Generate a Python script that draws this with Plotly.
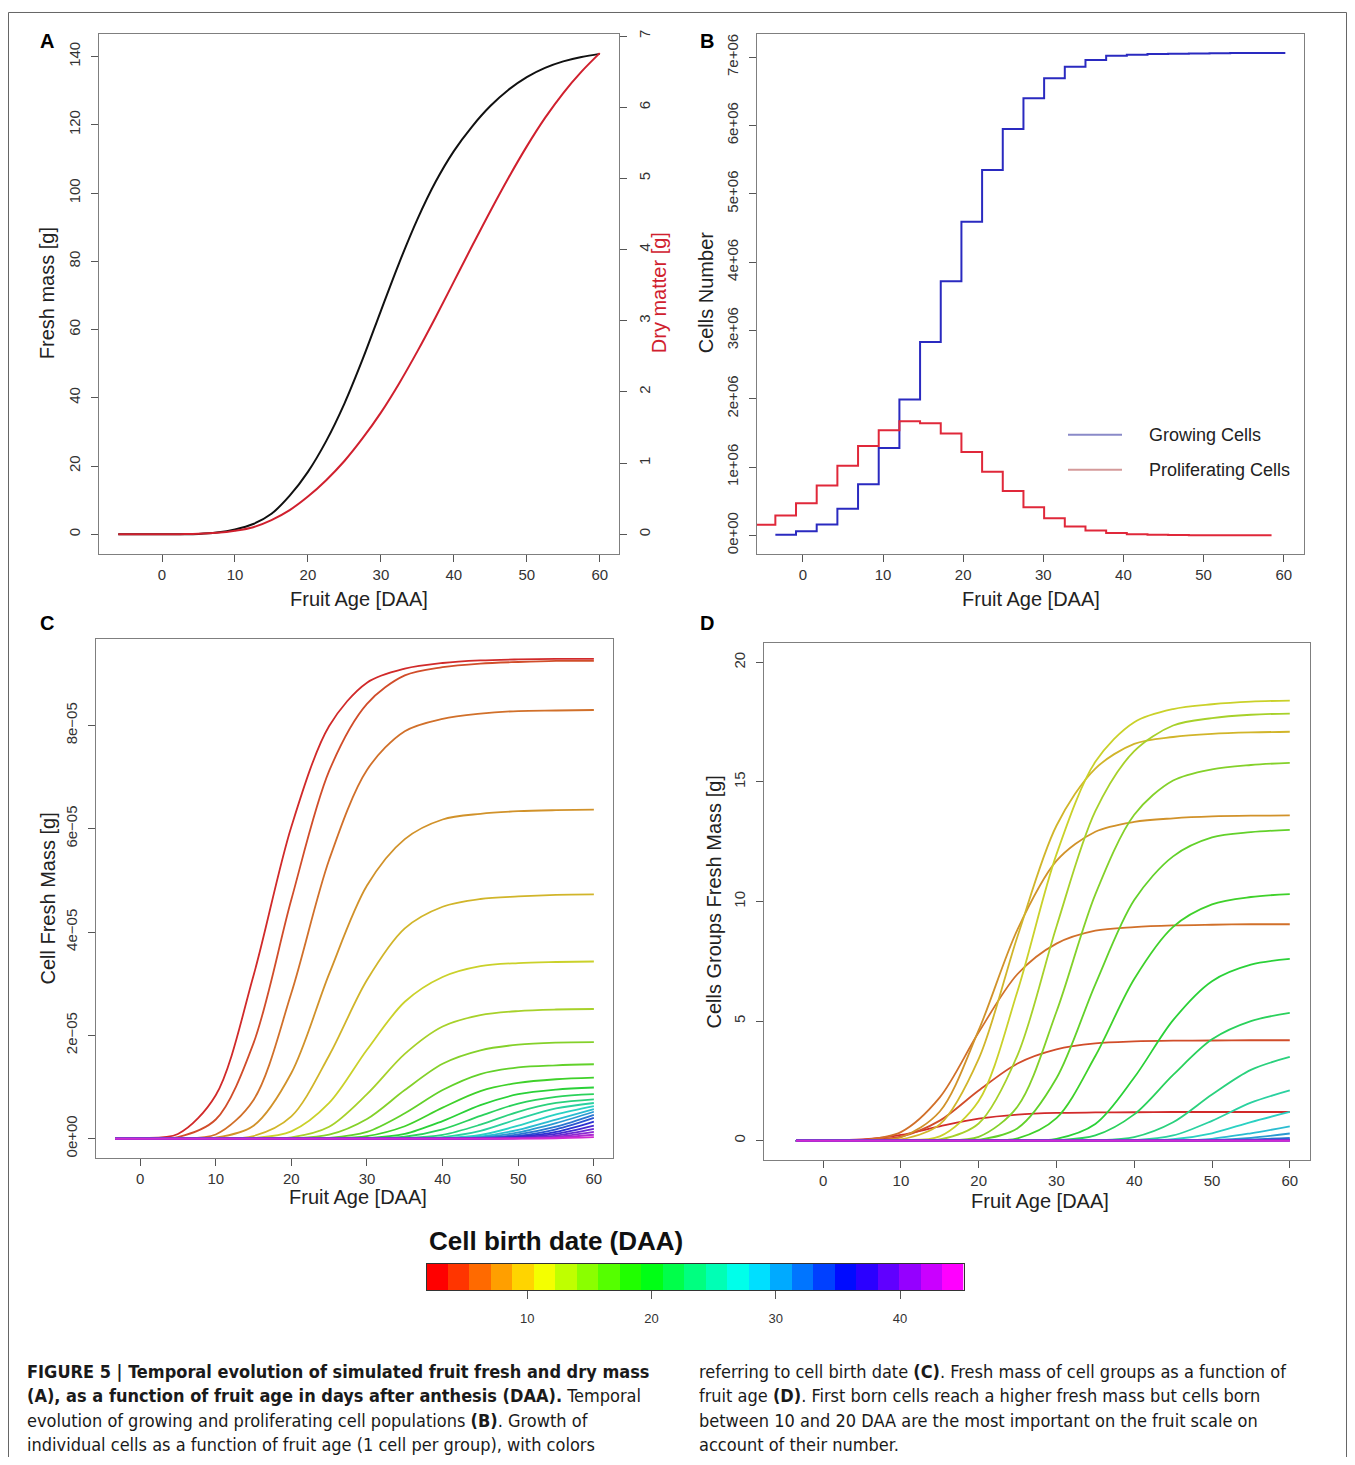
import colorsys
import plotly.graph_objects as go

# page body has an 8 px margin: the figure is laid out in reference pixel coordinates
OX, OY = 8, 8
W, H = 1339, 1449
FONT = "Liberation Sans, Arial, Helvetica, sans-serif"
NARROW = "Liberation Sans Narrow, DejaVu Sans Condensed, Arial Narrow, sans-serif"

# ---------------- Panel A : fruit fresh / dry mass ----------------
A_AGE = [-6, -3, 0, 2.5, 5, 7.5, 10, 12.5, 15, 17.5, 20, 22.5, 25, 27.5, 30, 32.5, 35,
         37.5, 40, 42.5, 45, 47.5, 50, 52.5, 55, 57.5, 60]
A_FRESH = [0, 0, 0, 0.02, 0.1, 0.5, 1.4, 3.0, 6.0, 11.3, 18.3, 27.3, 38.3, 51.3, 65.5, 79.5,
           92.3, 103.3, 112.3, 119.5, 125.5, 130.3, 134.0, 136.7, 138.6, 139.9, 140.8]
A_DRY = [0, 0, 0, 0.002, 0.006, 0.02, 0.05, 0.1, 0.2, 0.34, 0.53, 0.76, 1.03, 1.35, 1.71, 2.12,
         2.57, 3.05, 3.55, 4.05, 4.54, 5.01, 5.45, 5.85, 6.2, 6.5, 6.76]

# ---------------- Panel B : cell populations (step series) ----------------
B_GROW_AGE = [-3.44, -0.86, 1.72, 4.30, 6.88, 9.46, 12.04, 14.62, 17.20, 19.78, 22.36, 24.94,
              27.52, 30.10, 32.68, 35.26, 37.84, 40.42, 43.00, 45.58, 48.16, 50.74, 53.32,
              55.90, 58.48, 60.2]
B_GROWING = [0.01e6, 0.06e6, 0.16e6, 0.39e6, 0.75e6, 1.28e6, 1.99e6, 2.83e6, 3.72e6, 4.59e6,
             5.35e6, 5.95e6, 6.40e6, 6.69e6, 6.86e6, 6.96e6, 7.02e6, 7.035e6, 7.045e6, 7.05e6,
             7.055e6, 7.058e6, 7.06e6, 7.06e6, 7.06e6, 7.06e6]
B_PROL_AGE = [-6.02, -3.44, -0.86, 1.72, 4.30, 6.88, 9.46, 12.04, 14.62, 17.20, 19.78, 22.36,
              24.94, 27.52, 30.10, 32.68, 35.26, 37.84, 40.42, 43.00, 45.58, 48.16, 50.74,
              53.32, 55.90, 58.48]
B_PROLIF = [0.155e6, 0.29e6, 0.47e6, 0.73e6, 1.02e6, 1.31e6, 1.54e6, 1.67e6, 1.64e6, 1.49e6,
            1.22e6, 0.93e6, 0.65e6, 0.41e6, 0.25e6, 0.13e6, 0.07e6, 0.035e6, 0.018e6, 0.009e6,
            0.005e6, 0.003e6, 0.002e6, 0.001e6, 0.0005e6, 0.0005e6]
B_SERIES = ["Growing Cells", "Proliferating Cells"]

# ---------------- Panel C : individual cell fresh mass (x 1e-5 g) ----------------
C_AGE = [-3.3, 0, 5, 10, 15, 20, 25, 30, 35, 40, 45, 50, 55, 60]
C_MASS_E5 = [
    [0, 0.01, 0.09, 0.84, 3.16, 6.04, 7.99, 8.83, 9.10, 9.21, 9.26, 9.28, 9.29, 9.29],
    [0, 0, 0.03, 0.37, 1.85, 4.63, 7.12, 8.42, 8.97, 9.13, 9.20, 9.23, 9.25, 9.25],
    [0, 0, 0.01, 0.08, 0.75, 2.82, 5.40, 7.14, 7.89, 8.13, 8.23, 8.28, 8.29, 8.30],
    [0, 0, 0, 0.02, 0.25, 1.27, 3.19, 4.90, 5.80, 6.18, 6.29, 6.34, 6.36, 6.37],
    [0, 0, 0, 0.005, 0.05, 0.43, 1.61, 3.07, 4.07, 4.49, 4.64, 4.69, 4.72, 4.73],
    [0, 0, 0, 0, 0.01, 0.14, 0.69, 1.72, 2.65, 3.13, 3.34, 3.40, 3.42, 3.43],
    [0, 0, 0, 0, 0.003, 0.025, 0.23, 0.86, 1.64, 2.17, 2.39, 2.47, 2.50, 2.51],
    [0, 0, 0, 0, 0, 0.006, 0.075, 0.38, 0.94, 1.45, 1.71, 1.82, 1.86, 1.87],
    [0, 0, 0, 0, 0, 0.001, 0.015, 0.13, 0.49, 0.94, 1.25, 1.38, 1.42, 1.44],
    [0, 0, 0, 0, 0, 0, 0.004, 0.048, 0.24, 0.60, 0.92, 1.08, 1.15, 1.18],
    [0, 0, 0, 0, 0, 0, 0.001, 0.01, 0.09, 0.34, 0.65, 0.86, 0.95, 0.99],
    [0, 0, 0, 0, 0, 0, 0, 0.003, 0.036, 0.18, 0.44, 0.68, 0.81, 0.86],
    [0, 0, 0, 0, 0, 0, 0, 0.001, 0.008, 0.072, 0.27, 0.52, 0.69, 0.76],
    [0, 0, 0, 0, 0, 0, 0, 0, 0.002, 0.03, 0.15, 0.38, 0.585, 0.69],
    [0, 0, 0, 0, 0, 0, 0, 0, 0.001, 0.01, 0.07, 0.25, 0.47, 0.63],
    [0, 0, 0, 0, 0, 0, 0, 0, 0, 0.005, 0.04, 0.17, 0.37, 0.57],
    [0, 0, 0, 0, 0, 0, 0, 0, 0, 0.002, 0.025, 0.12, 0.30, 0.52],
    [0, 0, 0, 0, 0, 0, 0, 0, 0, 0.001, 0.015, 0.08, 0.23, 0.46],
    [0, 0, 0, 0, 0, 0, 0, 0, 0, 0, 0.008, 0.055, 0.18, 0.40],
    [0, 0, 0, 0, 0, 0, 0, 0, 0, 0, 0.004, 0.035, 0.13, 0.33],
    [0, 0, 0, 0, 0, 0, 0, 0, 0, 0, 0.002, 0.02, 0.09, 0.25],
    [0, 0, 0, 0, 0, 0, 0, 0, 0, 0, 0.001, 0.012, 0.06, 0.19],
    [0, 0, 0, 0, 0, 0, 0, 0, 0, 0, 0, 0.006, 0.035, 0.13],
    [0, 0, 0, 0, 0, 0, 0, 0, 0, 0, 0, 0.003, 0.018, 0.075],
    [0, 0, 0, 0, 0, 0, 0, 0, 0, 0, 0, 0.001, 0.007, 0.03],
]

# ---------------- Panel D : cell-group fresh mass (g) ----------------
D_AGE = [-3.5, 0, 5, 10, 15, 20, 25, 30, 35, 40, 45, 50, 55, 60]
D_MASS = [
    [0, 0.004, 0.05, 0.24, 0.6, 0.92, 1.09, 1.16, 1.18, 1.19, 1.2, 1.2, 1.2, 1.2],
    [0, 0, 0.013, 0.17, 0.84, 2.1, 3.23, 3.82, 4.07, 4.15, 4.18, 4.19, 4.2, 4.2],
    [0, 0, 0.027, 0.36, 1.81, 4.53, 6.97, 8.24, 8.78, 8.93, 9.0, 9.03, 9.05, 9.05],
    [0, 0, 0.014, 0.14, 1.22, 4.62, 8.84, 11.7, 12.92, 13.33, 13.48, 13.56, 13.59, 13.6],
    [0, 0, 0, 0.05, 0.68, 3.42, 8.55, 13.17, 15.56, 16.59, 16.88, 17.01, 17.07, 17.1],
    [0, 0, 0, 0.02, 0.18, 1.66, 6.26, 11.97, 15.84, 17.5, 18.05, 18.25, 18.36, 18.4],
    [0, 0, 0, 0, 0.05, 0.72, 3.58, 8.95, 13.78, 16.29, 17.36, 17.67, 17.81, 17.86],
    [0, 0, 0, 0, 0.02, 0.16, 1.43, 5.39, 10.3, 13.63, 15.06, 15.53, 15.71, 15.8],
    [0, 0, 0, 0, 0, 0.04, 0.52, 2.61, 6.54, 10.06, 11.89, 12.68, 12.9, 13.0],
    [0, 0, 0, 0, 0, 0.01, 0.1, 0.94, 3.54, 6.76, 8.94, 9.88, 10.19, 10.31],
    [0, 0, 0, 0, 0, 0, 0.01, 0.08, 0.7, 2.64, 5.04, 6.67, 7.36, 7.6],
    [0, 0, 0, 0, 0, 0, 0, 0.02, 0.22, 1.1, 2.75, 4.24, 5.0, 5.34],
    [0, 0, 0, 0, 0, 0, 0, 0, 0.01, 0.15, 0.77, 1.93, 2.96, 3.5],
    [0, 0, 0, 0, 0, 0, 0, 0, 0.002, 0.02, 0.22, 0.83, 1.59, 2.1],
    [0, 0, 0, 0, 0, 0, 0, 0, 0, 0.005, 0.06, 0.31, 0.78, 1.2],
    [0, 0, 0, 0, 0, 0, 0, 0, 0, 0.001, 0.01, 0.08, 0.31, 0.6],
    [0, 0, 0, 0, 0, 0, 0, 0, 0, 0, 0.002, 0.024, 0.12, 0.3],
    [0, 0, 0, 0, 0, 0, 0, 0, 0, 0, 0, 0.01, 0.05, 0.12],
    [0, 0, 0, 0, 0, 0, 0, 0, 0, 0, 0, 0.005, 0.025, 0.06],
    [0, 0, 0, 0, 0, 0, 0, 0, 0, 0, 0, 0, 0.01, 0.03],
    [0, 0, 0, 0, 0, 0, 0, 0, 0, 0, 0, 0, 0.005, 0.015],
    [0, 0, 0, 0, 0, 0, 0, 0, 0, 0, 0, 0, 0, 0.008],
    [0, 0, 0, 0, 0, 0, 0, 0, 0, 0, 0, 0, 0, 0.004],
    [0, 0, 0, 0, 0, 0, 0, 0, 0, 0, 0, 0, 0, 0.002],
    [0, 0, 0, 0, 0, 0, 0, 0, 0, 0, 0, 0, 0, 0.001],
]

# ---------------- Colour key : cell birth date bins (DAA) ----------------
BIRTH_EDGES = [1.9, 3.63, 5.36, 7.08, 8.81, 10.54, 12.27, 14.0, 15.72, 17.45, 19.18, 20.91,
               22.64, 24.36, 26.09, 27.82, 29.55, 31.28, 33.0, 34.73, 36.46, 38.19, 39.92,
               41.64, 43.37, 45.1]
BIRTH_TICKS = [10, 20, 30, 40]

X_TICKS = [0, 10, 20, 30, 40, 50, 60]
A_Y_TICKS = [0, 20, 40, 60, 80, 100, 120, 140]
A_Y2_TICKS = [0, 1, 2, 3, 4, 5, 6, 7]
B_Y_TICKS = [0, 1e6, 2e6, 3e6, 4e6, 5e6, 6e6, 7e6]
B_Y_LABELS = ["0e+00", "1e+06", "2e+06", "3e+06", "4e+06", "5e+06", "6e+06", "7e+06"]
C_Y_TICKS = [0, 2e-5, 4e-5, 6e-5, 8e-5]
C_Y_LABELS = ["0e+00", "2e\u221205", "4e\u221205", "6e\u221205", "8e\u221205"]
D_Y_TICKS = [0, 5, 10, 15, 20]


def rainbow(n, s=1.0, v=1.0):
    out = []
    for i in range(n):
        h = (i / (n - 1)) * (300 / 360)
        r, g, b = colorsys.hsv_to_rgb(h, s, v)
        out.append('#%02x%02x%02x' % (round(r * 255), round(g * 255), round(b * 255)))
    return out


N = len(C_MASS_E5)
KEY_COLORS = rainbow(len(BIRTH_EDGES) - 1)
LINE_COLORS = rainbow(N, s=0.8, v=0.82)


def px(x):
    return (x - OX) / W


def py(y):
    return 1 - (y - OY) / H


fig = go.Figure()

# Panel A
fig.add_trace(go.Scatter(x=A_AGE, y=A_FRESH, mode='lines', line=dict(color='#111111', width=2, shape='spline'),
                         xaxis='x', yaxis='y'))
fig.add_trace(go.Scatter(x=A_AGE, y=A_DRY, mode='lines', line=dict(color='#d0202e', width=2, shape='spline'),
                         xaxis='x', yaxis='y2'))

# Panel B
fig.add_trace(go.Scatter(x=B_GROW_AGE, y=B_GROWING, mode='lines', name=B_SERIES[0],
                         line=dict(color='#2a2ac0', width=2, shape='hv'), xaxis='x2', yaxis='y3'))
fig.add_trace(go.Scatter(x=B_PROL_AGE, y=B_PROLIF, mode='lines', name=B_SERIES[1],
                         line=dict(color='#e0283a', width=2, shape='hv'), xaxis='x2', yaxis='y3'))

# Panel C
for i, row in enumerate(C_MASS_E5):
    fig.add_trace(go.Scatter(x=C_AGE, y=[v * 1e-5 for v in row], mode='lines',
                             line=dict(color=LINE_COLORS[i], width=1.8, shape='spline', smoothing=0.9),
                             xaxis='x3', yaxis='y4'))

# Panel D
for i, row in enumerate(D_MASS):
    fig.add_trace(go.Scatter(x=D_AGE, y=row, mode='lines',
                             line=dict(color=LINE_COLORS[i], width=1.8, shape='spline', smoothing=0.9),
                             xaxis='x4', yaxis='y5'))

# Colour key
nb = len(KEY_COLORS)
cscale = []
for i, c in enumerate(KEY_COLORS):
    cscale.append([i / nb, c])
    cscale.append([(i + 1) / nb, c])
fig.add_trace(go.Heatmap(x=BIRTH_EDGES, z=[list(range(nb))], zmin=-0.5, zmax=nb - 0.5,
                         colorscale=cscale, showscale=False, xaxis='x5', yaxis='y6', hoverinfo='skip'))


def ax(**kw):
    base = dict(showline=True, linecolor='#7f7f7f', linewidth=1, mirror=True, ticks='outside',
                ticklen=7, tickwidth=1, tickcolor='#555555',
                tickfont=dict(size=15, color='#333333', family=FONT),
                showgrid=False, zeroline=False, fixedrange=True)
    base.update(kw)
    return base


fig.update_layout(
    width=W, height=H, margin=dict(l=0, r=0, t=0, b=0),
    paper_bgcolor='white', plot_bgcolor='white', showlegend=False,
    font=dict(family=FONT, color='#222222'),
    xaxis=ax(domain=[px(99), px(619)], range=[-8.64, 62.64], tickvals=X_TICKS, anchor='y'),
    yaxis=ax(domain=[py(551), py(30)], range=[-5.64, 146.64], tickvals=A_Y_TICKS, tickangle=-90,
             anchor='x', ticklabelstandoff=5),
    yaxis2=ax(domain=[py(551), py(30)], range=[-0.27, 7.03], tickvals=A_Y2_TICKS, tickangle=-90,
              overlaying='y', side='right', anchor='x', mirror=False, ticklabelstandoff=5),
    xaxis2=ax(domain=[px(757), px(1304)], range=[-5.73, 62.53], tickvals=X_TICKS, anchor='y3'),
    yaxis3=ax(domain=[py(552), py(30)], range=[-0.28e6, 7.34e6], tickvals=B_Y_TICKS, ticktext=B_Y_LABELS,
              tickangle=-90, anchor='x2', ticklabelstandoff=5),
    xaxis3=ax(domain=[px(96), px(613)], range=[-5.83, 62.53], tickvals=X_TICKS, anchor='y4'),
    yaxis4=ax(domain=[py(1157), py(637)], range=[-0.372e-5, 9.67e-5], tickvals=C_Y_TICKS, ticktext=C_Y_LABELS,
              tickangle=-90, anchor='x3', ticklabelstandoff=5),
    xaxis4=ax(domain=[px(764), px(1310)], range=[-7.6, 62.6], tickvals=X_TICKS, anchor='y5'),
    yaxis5=ax(domain=[py(1159), py(641)], range=[-0.8, 20.8], tickvals=D_Y_TICKS, tickangle=-90,
              anchor='x4', ticklabelstandoff=5),
    xaxis5=ax(domain=[px(426.5), px(963.5)], range=[BIRTH_EDGES[0], BIRTH_EDGES[-1]], tickvals=BIRTH_TICKS,
              anchor='y6', linecolor='#333333', ticklen=8, tickfont=dict(size=13, color='#333333', family=FONT),
              ticklabelstandoff=8),
    yaxis6=ax(domain=[py(1290), py(1263)], range=[-0.5, 0.5], showticklabels=False, ticks='',
              linecolor='#333333', anchor='x5'),
)

ann = []


def text(x, y, s, size, color='#222222', angle=0, bold=False, xanchor='center', family=FONT):
    ann.append(dict(x=px(x), y=py(y), xref='paper', yref='paper', text=('<b>%s</b>' % s) if bold else s,
                    showarrow=False, textangle=angle, xanchor=xanchor, yanchor='middle',
                    font=dict(size=size, color=color, family=family)))


# panel letters
text(47, 37, 'A', 20, '#000', bold=True)
text(707, 37, 'B', 20, '#000', bold=True)
text(47, 621, 'C', 20, '#000', bold=True)
text(707, 621, 'D', 20, '#000', bold=True)

# axis titles
text(359, 597, 'Fruit Age [DAA]', 20)
text(47, 290, 'Fresh mass [g]', 20, angle=-90)
text(659, 290, 'Dry matter [g]', 20, '#d0202e', angle=-90)
text(1031, 597, 'Fruit Age [DAA]', 20)
text(706, 290, 'Cells Number', 20, angle=-90)
text(358, 1196, 'Fruit Age [DAA]', 20)
text(48, 897, 'Cell Fresh Mass [g]', 20, angle=-90)
text(1040, 1200, 'Fruit Age [DAA]', 20)
text(714, 900, 'Cells Groups Fresh Mass [g]', 20, angle=-90)

# legend of panel B
text(1147, 432, B_SERIES[0], 18, xanchor='left')
text(1147, 467, B_SERIES[1], 18, xanchor='left')

# colour key title
text(427, 1240, 'Cell birth date (DAA)', 26, '#111', bold=True, xanchor='left')

# caption
CAP_L = [
    '<b>FIGURE 5 | Temporal evolution of simulated fruit fresh and dry mass</b>',
    '<b>(A), as a function of fruit age in days after anthesis (DAA).</b> Temporal',
    'evolution of growing and proliferating cell populations <b>(B)</b>. Growth of',
    'individual cells as a function of fruit age (1 cell per group), with colors',
]
CAP_R = [
    'referring to cell birth date <b>(C)</b>. Fresh mass of cell groups as a function of',
    'fruit age <b>(D)</b>. First born cells reach a higher fresh mass but cells born',
    'between 10 and 20 DAA are the most important on the fruit scale on',
    'account of their number.',
]
CAP_Y = [1371, 1395.5, 1420, 1444]
for k, s in enumerate(CAP_L):
    text(25, CAP_Y[k], s, 18, '#1a1a1a', xanchor='left', family=NARROW)
for k, s in enumerate(CAP_R):
    text(697, CAP_Y[k], s, 18, '#1a1a1a', xanchor='left', family=NARROW)

fig.update_layout(annotations=ann)

shapes = [
    dict(type='rect', xref='paper', yref='paper', x0=px(8.5), x1=px(1346.5), y0=-0.01, y1=py(8.5),
         line=dict(color='#666666', width=1)),
    dict(type='line', xref='paper', yref='paper', x0=px(1068), x1=px(1122), y0=py(432), y1=py(432),
         line=dict(color='#8a8ac8', width=2)),
    dict(type='line', xref='paper', yref='paper', x0=px(1068), x1=px(1122), y0=py(467), y1=py(467),
         line=dict(color='#d49a9a', width=2)),
]
fig.update_layout(shapes=shapes)

fig.write_html("out.html")
